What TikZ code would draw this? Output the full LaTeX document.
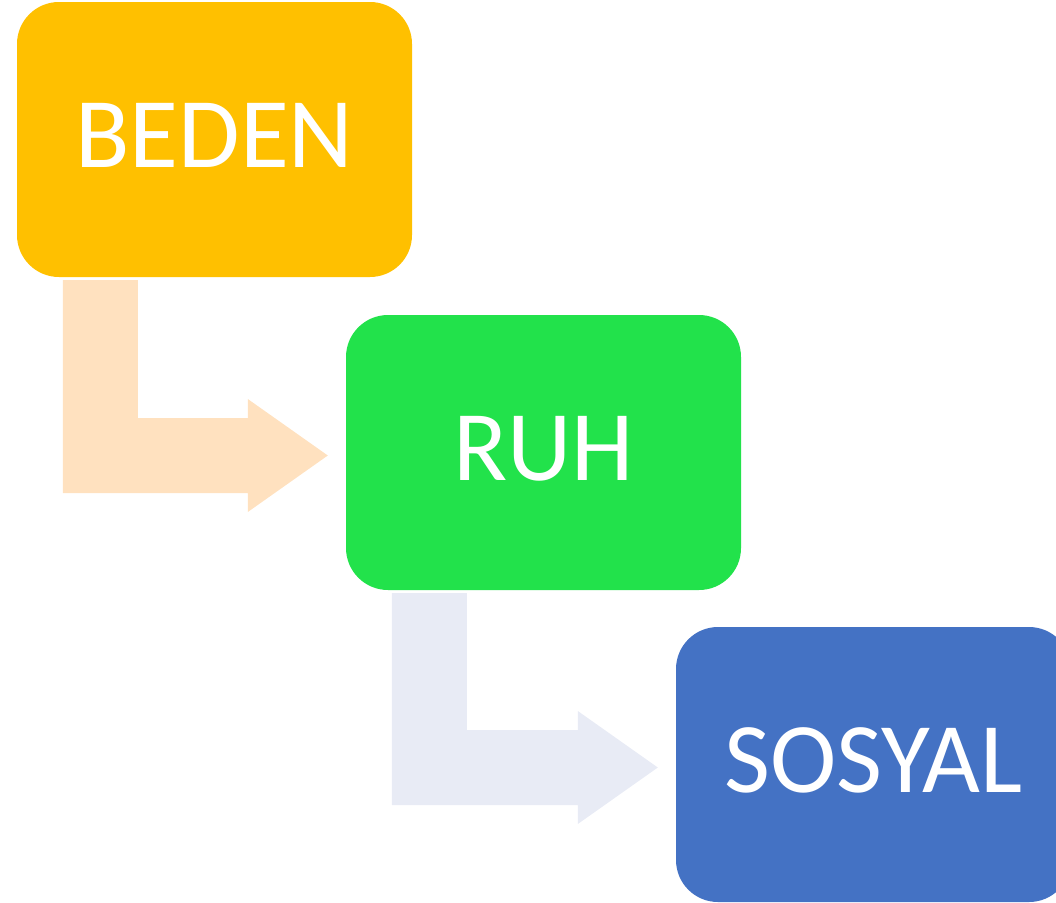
\documentclass[tikz,border=0pt]{standalone}
\usepackage{fontspec}
\setmainfont{Carlito}
\usepackage{xcolor}
\usetikzlibrary{calc}

\definecolor{bedencol}{HTML}{FFC000}
\definecolor{ruhcol}{HTML}{22E24B}
\definecolor{sosyalcol}{HTML}{4472C4}
\definecolor{armone}{HTML}{FFE1BF}
\definecolor{armtwo}{HTML}{E8EBF5}

\tikzset{
  stepbox/.style={rectangle, rounded corners=42pt, minimum width=395pt,
    minimum height=275pt, inner sep=0pt, text=white, text depth=8pt,
    font=\fontsize{100}{120}\selectfont},
}

\begin{document}
\begin{tikzpicture}[x=1pt, y=-1pt]
  % Page size of the picture
  \useasboundingbox (0,0) rectangle (1056,902);
  \clip (0,0) rectangle (1056,902);

  % The three boxes
  \node[stepbox, fill=bedencol] (beden) at (214.5,139.5) {BEDEN};
  \node[stepbox, fill=ruhcol] (ruh) at (543.5,452.5) {RUH};
  \node[stepbox, fill=sosyalcol] (sosyal) at (873.5,764.5) {SOSYAL};

  % Bent arrows from one box to the next
  \foreach \a/\b/\c in {beden/ruh/armone, ruh/sosyal/armtwo}{
    \coordinate (tl) at ($(\a.south west)+(46,3)$);
    \coordinate (tr) at ($(\a.south west)+(121,3)$);
    \coordinate (hu) at ($(\b.west)+(-98,-34.5)$);
    \coordinate (hd) at ($(\b.west)+(-98,40.5)$);
    \fill[fill=\c] (tl) -- (tr) -- (tr |- hu) -- (hu)
      -- ($(\b.west)+(-98,-53.5)$) -- ($(\b.west)+(-18,3)$)
      -- ($(\b.west)+(-98,59.5)$) -- (hd) -- (tl |- hd) -- cycle;
  }
\end{tikzpicture}
\end{document}
